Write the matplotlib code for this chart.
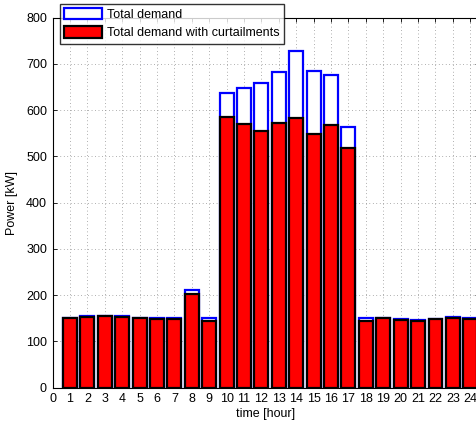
import matplotlib
matplotlib.use("Agg")
import matplotlib.pyplot as plt
import numpy as np

plt.rcParams['font.family'] = ['Liberation Sans', 'DejaVu Sans']

hours = list(range(1, 25))
total_demand = [150, 154, 155, 155, 151, 150, 150, 211, 150,
                636, 647, 659, 682, 727, 685, 676, 563,
                151, 151, 148, 146, 149, 152, 150]
curtailed_demand = [150, 153, 154, 153, 150, 149, 149, 203, 144,
                    586, 570, 554, 573, 582, 549, 568, 518,
                    144, 150, 147, 145, 148, 151, 149]
x_ticks = list(range(0, 25))
y_ticks = list(range(0, 801, 100))

fig = plt.figure(figsize=(4.76, 4.22), dpi=100)
ax = fig.add_axes([52.5 / 476, 34.3 / 422, 426.5 / 476, 370.2 / 422])

b1 = ax.bar(hours, total_demand, width=0.8, facecolor='white',
            edgecolor='#0000ff', linewidth=1.6, zorder=2)
b2 = ax.bar(hours, curtailed_demand, width=0.8, facecolor='#ff0000',
            edgecolor='black', linewidth=1.6, zorder=3)

ax.set_xlim(0, 24.5)
ax.set_ylim(0, 800)
ax.set_xticks(x_ticks)
ax.set_yticks(y_ticks)
ax.tick_params(direction='in', length=3, width=0.6, labelsize=9,
               top=True, right=True, pad=4)
ax.grid(True, linestyle=(0, (1, 4)), color='#666666', linewidth=0.5, zorder=0)
ax.set_axisbelow(True)
for s in ax.spines.values():
    s.set_linewidth(0.8)

ax.set_xlabel('time [hour]', fontsize=9, labelpad=2)
ax.set_ylabel('Power [kW]', fontsize=9, labelpad=6)

leg = fig.legend([b1, b2], ['Total demand', 'Total demand with curtailments'],
                 loc='upper left', bbox_to_anchor=(60 / 476, 1 - 3.5 / 422),
                 fontsize=9, frameon=True, fancybox=False, edgecolor='black',
                 handlelength=3.0, handleheight=1.0, borderpad=0.35,
                 labelspacing=0.45, handletextpad=0.4, borderaxespad=0)
leg.get_frame().set_linewidth(1.0)

fig.savefig('out.png', dpi=100)
